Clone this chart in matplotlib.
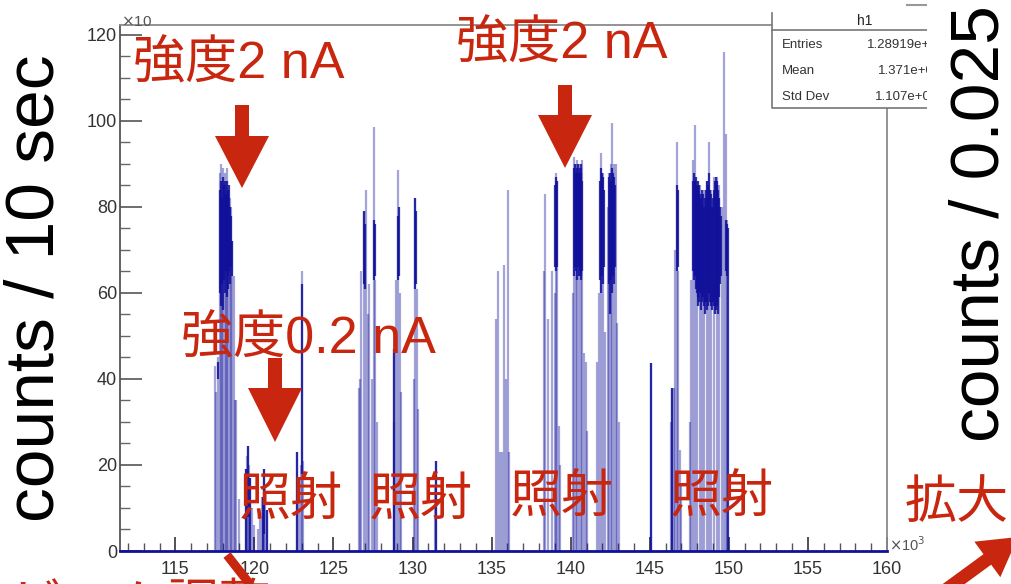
import matplotlib
matplotlib.use("Agg")
import matplotlib.pyplot as plt
from matplotlib.patches import Polygon, Rectangle

# thin strokes of the histogram: position (x10^3 s) and height (counts / 10 sec)
spike_x = [117.50, 117.56, 117.72, 117.80, 117.88, 117.96, 118.04, 118.12, 118.20, 118.28,
           118.36, 118.44, 118.52, 118.60, 118.68, 118.80, 118.86,
           119.05, 119.45, 119.53, 119.60, 119.67, 119.75, 119.85, 120.00, 120.20, 120.35,
           120.50, 120.60, 120.70, 120.80,
           122.72, 122.80, 122.95, 123.03, 123.10,
           126.64, 126.70, 126.76, 126.95, 127.08, 127.20, 127.27, 127.45, 127.58, 127.65, 127.72,
           128.80, 128.85, 128.95, 129.10, 129.20, 129.29,
           130.10, 130.17, 130.25, 130.36,
           131.45, 131.50,
           135.30, 135.42, 135.55, 135.67, 135.80, 135.90, 136.05, 136.12,
           138.30, 138.39, 138.55, 138.83, 139.00, 139.08, 139.15, 139.27, 139.35,
           140.15, 140.22, 140.32, 140.42, 140.52, 140.62, 140.73, 140.85, 140.98, 141.05,
           141.67, 141.80, 141.93, 142.05, 142.18, 142.35, 142.43, 142.55, 142.62, 142.72,
           142.88, 142.95, 143.06,
           145.09,
           146.36, 146.42, 146.50, 146.60, 146.73, 146.80, 146.92, 147.00,
           147.55, 147.61, 147.74, 147.87, 148.00, 148.15, 148.30, 148.45, 148.60, 148.75,
           148.90, 149.05, 149.26, 149.40, 149.55, 149.70, 149.80, 149.90]
spike_top = [43, 37, 45, 88, 90, 86, 89, 88, 85, 89,
             84, 82, 80, 72, 64, 35, 35,
             12, 19, 22, 24.5, 20, 17, 10, 6, 5, 8,
             12.5, 19, 15, 9.5,
             23, 17, 20, 65, 21,
             38, 40, 65, 79, 84, 55, 62, 40, 98.6, 63, 30,
             30, 47, 63, 88.6, 60, 37,
             40, 82, 61, 33,
             15, 21,
             54, 65, 23, 23, 66.5, 40, 84, 23,
             65, 83, 54, 65, 60, 88, 86, 29, 20,
             60, 91.5, 90, 91, 90, 89, 91, 46, 44, 28,
             44, 60, 92.5, 88, 51, 80, 88, 90, 99.5, 90,
             90, 53, 30,
             43.7,
             30, 38, 38, 70, 95, 65, 23.5, 15,
             30, 63, 91, 99, 86, 85, 83, 84, 86, 95,
             84, 87, 87, 85, 80, 116, 97, 77]

# dense (dark) parts: position, lowest and highest count seen there
core_x = [117.70, 117.82, 117.88, 117.94, 118.00, 118.06, 118.12, 118.18, 118.24, 118.30,
          118.36, 118.42, 118.48, 118.54, 118.60,
          119.47, 119.60, 119.74, 120.56, 120.63, 120.80,
          122.72, 123.04,
          126.94, 126.99, 127.57, 127.61,
          128.85, 129.08, 129.12,
          130.15, 130.19,
          131.50,
          139.02, 139.08, 139.14,
          140.20, 140.26, 140.32, 140.38, 140.44, 140.50, 140.56, 140.62, 140.68, 140.74,
          141.86, 141.92, 141.98, 142.04, 142.10, 142.44, 142.50, 142.56, 142.62, 142.68,
          142.74, 142.80,
          145.09,
          146.42, 146.71, 146.76,
          147.72, 147.78, 147.84, 147.90, 147.96, 148.02, 148.08, 148.14, 148.20, 148.26,
          148.32, 148.38, 148.44, 148.50, 148.56, 148.62, 148.68, 148.74, 148.80, 148.86,
          148.92, 148.98, 149.04, 149.10, 149.16, 149.22, 149.28, 149.34, 149.40, 149.46,
          149.52, 149.84, 149.88, 149.95]
core_lo = [40, 60, 57, 62, 56, 63, 60, 65, 59, 64,
           61, 65, 62, 66, 64,
           0, 8, 0, 0, 4, 0,
           0, 18,
           62, 61, 63, 64,
           0, 63, 64,
           61, 62,
           0,
           66, 65, 66,
           64, 66, 65, 63, 66, 64, 65, 63, 64, 65,
           63, 60, 64, 62, 66, 62, 55, 63, 60, 64,
           62, 66,
           0,
           0, 65, 66,
           65, 63, 64, 61, 60, 57, 59, 58, 60, 56,
           58, 59, 57, 55, 58, 56, 57, 60, 58, 57,
           56, 58, 57, 55, 56, 58, 57, 55, 59, 62,
           64, 65, 64, 0]
core_hi = [44, 84, 86, 82, 87, 85, 86, 83, 86, 84,
           82, 85, 80, 78, 72,
           19, 24.5, 17, 12.5, 19, 9.5,
           23, 62,
           79, 76, 77, 76,
           47, 78, 80,
           82, 79,
           21,
           85, 87, 86,
           89, 90, 88, 89, 90, 88, 89, 90, 88, 86,
           86, 89, 88, 87, 84, 87, 88, 86, 89, 88,
           87, 85,
           43.7,
           38, 85, 84,
           86, 88, 86, 87, 85, 84, 86, 85, 83, 82,
           84, 83, 80, 82, 84, 86, 85, 88, 84, 83,
           80, 82, 84, 86, 87, 85, 86, 84, 82, 80,
           78, 77, 76, 75]

x_ticks = [115, 120, 125, 130, 135, 140, 145, 150, 155, 160]
y_ticks = [0, 20, 40, 60, 80, 100, 120]
stat_names = ["Entries", "Mean", "Std Dev"]
stat_values = ["1.28919e+06", "1.371e+05", "1.107e+04"]

navy = "#10109a"
red = "#c8260e"
jp = ["Liberation Sans", "Noto Sans CJK JP"]

fig = plt.figure(figsize=(10.12, 5.84), dpi=100)
ax = fig.add_axes([120 / 1012, 33 / 584, 767 / 1012, 526 / 584])
ax.vlines(spike_x, 0, spike_top, color=navy, alpha=0.38, lw=1.6)
ax.vlines(core_x, core_lo, core_hi, color=navy, alpha=0.85, lw=1.6)
ax.set_xlim(111.5, 160)
ax.set_ylim(0, 122.3)

ax.set_xticks(x_ticks)
ax.set_xticks(range(112, 161), minor=True)
ax.set_yticks(y_ticks)
ax.set_yticks(range(0, 121, 5), minor=True)
ax.tick_params(axis="x", which="major", direction="in", length=10, width=1.2, color="#333",
               pad=7, labelsize=13, labelcolor="#333")
ax.tick_params(axis="x", which="minor", direction="in", length=5.5, width=1, color="#555")
ax.tick_params(axis="y", which="major", direction="in", length=16, width=1.2, color="#555",
               pad=2, labelsize=13, labelcolor="#333")
ax.tick_params(axis="y", which="minor", direction="in", length=7, width=1, color="#666")
for lab in ax.get_xticklabels() + ax.get_yticklabels():
    lab.set_family("Liberation Sans")
ax.spines["left"].set_color("#555")
ax.spines["left"].set_linewidth(1.3)
ax.spines["bottom"].set_color(navy)
ax.spines["bottom"].set_linewidth(2)
ax.spines["top"].set_color("#8a8a8a")
ax.spines["right"].set_color("#8a8a8a")
ax.spines["top"].set_linewidth(1.3)
ax.spines["right"].set_linewidth(1.3)

# overlay in pixel coordinates for the annotations pasted on the screenshot
ov = fig.add_axes([0, 0, 1, 1], zorder=10)
ov.set_xlim(0, 1012)
ov.set_ylim(584, 0)
ov.axis("off")
ov.set_facecolor("none")

# stats box of the ROOT canvas (cut on the right)
ov.add_patch(Rectangle((772, 5), 160, 103, facecolor="white", edgecolor="none", zorder=1))
ov.plot([772, 772, 932], [13, 108, 108], color="#777", lw=1.2, zorder=2)
ov.plot([772, 932], [30, 30], color="#777", lw=1.2, zorder=2)
ov.plot([907, 932], [5, 5], color="#999", lw=1.5, zorder=2)
ov.text(865, 21, "h1", ha="center", va="center", fontsize=10, color="#222",
        family="Liberation Sans", zorder=2)
for i, (name, val) in enumerate(zip(stat_names, stat_values)):
    y = 45 + 26 * i
    ov.text(782, y, name, ha="left", va="center", fontsize=9.5, color="#333",
            family="Liberation Sans", zorder=2)
    ov.text([867, 878, 875][i], y, val, ha="left", va="center", fontsize=9.5,
            color="#333", family="Liberation Sans", zorder=2)
ov.add_patch(Rectangle((927, 0), 90, 120, facecolor="white", edgecolor="none", zorder=3))

# axis multipliers
ov.text(121, 26, r"$\times$10", ha="left", va="baseline", fontsize=11, color="#555",
        family="Liberation Sans", zorder=2)
ov.add_patch(Rectangle((100, 0), 80, 14, facecolor="white", edgecolor="none", zorder=3))
ov.text(889, 551, r"$\times$10$^{3}$", ha="left", va="baseline", fontsize=10.5, color="#555",
        family="Liberation Sans", zorder=2)

# big axis titles
ov.text(36, 288, "counts / 10 sec", rotation=90, ha="center", va="center", fontsize=50,
        color="black", family="Liberation Sans", zorder=4)
ov.text(981, 224, "counts / 0.025", rotation=90, ha="center", va="center", fontsize=50,
        color="black", family="Liberation Sans", zorder=4)

# red notes
notes = [("強度2 nA", 133, 78), ("強度2 nA", 456, 58), ("強度0.2 nA", 181, 353),
         ("照射", 239, 516), ("照射", 369, 516), ("照射", 510, 513), ("照射", 670, 513),
         ("拡大", 905, 518), ("ビーム調整", 10, 621)]
for txt, x, y in notes:
    ov.text(x, y, txt, ha="left", va="baseline", fontsize=37.5, color=red, family=jp, zorder=4)


def down_arrow(cx, top, head_y, tip, shaft=14, head=54):
    return [(cx - shaft / 2, top), (cx + shaft / 2, top), (cx + shaft / 2, head_y),
            (cx + head / 2, head_y), (cx, tip), (cx - head / 2, head_y), (cx - shaft / 2, head_y)]


def slant_arrow(x0, y0, x1, y1, shaft=13, head=44, head_len=38):
    dx, dy = x1 - x0, y1 - y0
    n = (dx * dx + dy * dy) ** 0.5
    ux, uy = dx / n, dy / n
    px, py = -uy, ux
    bx, by = x1 - ux * head_len, y1 - uy * head_len
    s, h = shaft / 2, head / 2
    return [(x0 + px * s, y0 + py * s), (bx + px * s, by + py * s), (bx + px * h, by + py * h),
            (x1, y1), (bx - px * h, by - py * h), (bx - px * s, by - py * s),
            (x0 - px * s, y0 - py * s)]


for cx, top, hy, tip in [(242, 105, 136, 188), (565, 85, 115, 168), (275, 358, 388, 442)]:
    ov.add_patch(Polygon(down_arrow(cx, top, hy, tip), closed=True, facecolor=red,
                         edgecolor="none", zorder=4))

ov.add_patch(Polygon(slant_arrow(925, 605, 1018, 537), closed=True, facecolor=red,
                     edgecolor="none", zorder=4))
ov.plot([227, 256], [555, 592], color=red, lw=6.5, solid_capstyle="butt", zorder=4)

fig.savefig("out.png", dpi=100)
